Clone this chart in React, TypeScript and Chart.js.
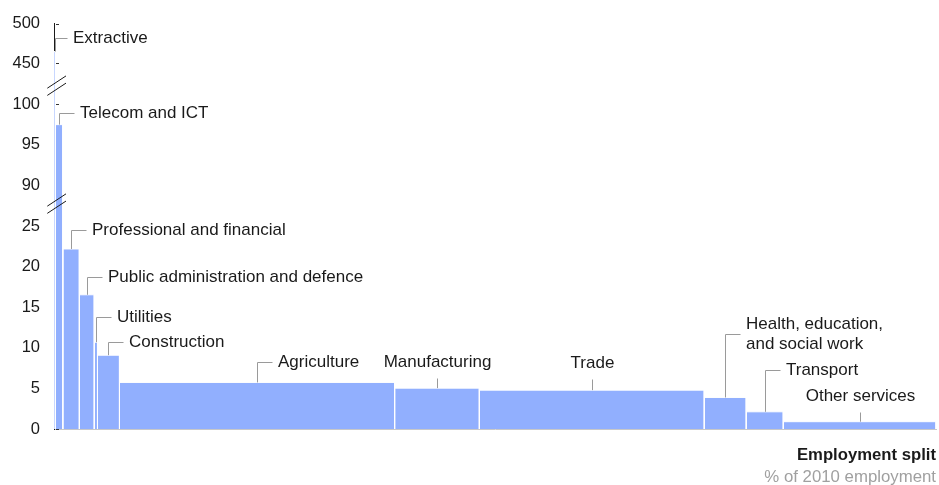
import React, { useEffect, useRef } from 'react';
import { Chart, registerables, LinearScale } from 'chart.js';

Chart.register(...registerables);

// ---------- DATA ----------
const categories: string[][] = [
  ['Extractive'],
  ['Telecom and ICT'],
  ['Professional and financial'],
  ['Public administration and defence'],
  ['Utilities'],
  ['Construction'],
  ['Agriculture'],
  ['Manufacturing'],
  ['Trade'],
  ['Health, education,', 'and social work'],
  ['Transport'],
  ['Other services'],
];
// bar widths: % of 2010 employment
const employmentShare: number[] = [0.17, 0.83, 1.87, 1.69, 0.37, 2.49, 31.2, 9.6, 25.5, 4.76, 4.2, 17.32];
// bar heights
const barValues: number[] = [465, 97.47, 22.2, 16.55, 10.7, 9.1, 5.74, 5.04, 4.79, 3.89, 2.12, 0.9];
const yTickValues: number[] = [0, 5, 10, 15, 20, 25, 90, 95, 100, 450, 500];

// broken axis: value ranges and their relative heights
const axisSegments = [
  { min: 0, max: 27.8, size: 226.5 },
  { min: 87.7, max: 102.3, size: 118.5 },
  { min: 422, max: 500, size: 62 },
];

// label placement (pixel rises above bar tops, horizontal arm length)
const labelLayout: { style: 'bracket' | 'stem'; rise: number; arm?: number }[] = [
  { style: 'bracket', rise: 14, arm: 12 },
  { style: 'bracket', rise: 12 },
  { style: 'bracket', rise: 19 },
  { style: 'bracket', rise: 18 },
  { style: 'bracket', rise: 25 },
  { style: 'bracket', rise: 13 },
  { style: 'bracket', rise: 20 },
  { style: 'stem', rise: 10 },
  { style: 'stem', rise: 11 },
  { style: 'bracket', rise: 63 },
  { style: 'bracket', rise: 42 },
  { style: 'stem', rise: 10 },
];

const FONT = "'Liberation Sans', Arial, Helvetica, sans-serif";
const BAR_COLOR = 'rgb(145,175,254)';
const TEXT_COLOR = '#1a1a1a';
const LEADER_COLOR = '#9a9a9a';

// ---------- broken linear scale ----------
const totalSize = axisSegments.reduce((a, s) => a + s.size, 0);

class BrokenLinearScale extends LinearScale {
  static id = 'brokenLinear';
  static defaults = {};

  buildTicks() {
    return yTickValues.map((v) => ({ value: v })) as any;
  }

  valueToDecimal(value: number) {
    let acc = 0;
    for (let i = 0; i < axisSegments.length; i++) {
      const s = axisSegments[i];
      if (value <= s.max || i === axisSegments.length - 1) {
        let t = (value - s.min) / (s.max - s.min);
        t = Math.max(0, t);
        return (acc + t * s.size) / totalSize;
      }
      acc += s.size;
    }
    return 1;
  }

  getPixelForValue(value: number) {
    if (value === null || value === undefined || isNaN(value)) return NaN;
    return this.getPixelForDecimal(this.valueToDecimal(value));
  }

  getValueForPixel(pixel: number) {
    const d = this.getDecimalForPixel(pixel) * totalSize;
    let acc = 0;
    for (let i = 0; i < axisSegments.length; i++) {
      const s = axisSegments[i];
      if (d <= acc + s.size || i === axisSegments.length - 1) {
        return s.min + ((d - acc) / s.size) * (s.max - s.min);
      }
      acc += s.size;
    }
    return axisSegments[axisSegments.length - 1].max;
  }

  breakPixels() {
    const out: number[] = [];
    let acc = 0;
    for (let i = 0; i < axisSegments.length - 1; i++) {
      acc += axisSegments[i].size;
      out.push(this.getPixelForDecimal(acc / totalSize));
    }
    return out;
  }
}
Chart.register(BrokenLinearScale as any);

// ---------- annotation plugin ----------
const annotatePlugin = {
  id: 'annotate',
  beforeDatasetsDraw(chart: any) {
    const { ctx, chartArea } = chart;
    const y = chart.scales.y;
    ctx.save();
    ctx.strokeStyle = '#333';
    ctx.lineWidth = 1;
    yTickValues.forEach((v) => {
      const py = Math.round(y.getPixelForValue(v)) + 0.5;
      ctx.beginPath();
      ctx.moveTo(chartArea.left + 2, py);
      ctx.lineTo(chartArea.left + 5, py);
      ctx.stroke();
    });
    ctx.restore();
  },
  afterDatasetsDraw(chart: any) {
    const { ctx, chartArea } = chart;
    const xs = chart.scales.x;
    const ys = chart.scales.y;
    ctx.save();
    // axis breaks
    const ax = chartArea.left;
    ctx.strokeStyle = '#1a1a1a';
    ctx.lineWidth = 1;
    (ys as BrokenLinearScale).breakPixels().forEach((yb: number) => {
      [-3.6, 3.6].forEach((off) => {
        ctx.beginPath();
        ctx.moveTo(ax - 6.7, yb + off + 6.2);
        ctx.lineTo(ax + 12, yb + off - 6.1);
        ctx.stroke();
      });
    });
    // leaders and labels
    ctx.font = `17px ${FONT}`;
    ctx.fillStyle = TEXT_COLOR;
    ctx.textBaseline = 'middle';
    let acc = 0;
    categories.forEach((lines, i) => {
      const x0 = acc;
      const x1 = acc + employmentShare[i];
      acc = x1;
      const cx = Math.round(xs.getPixelForValue((x0 + x1) / 2)) + 0.5;
      const top = ys.getPixelForValue(barValues[i]);
      const lay = labelLayout[i];
      const arm = lay.arm ?? 15;
      const ly = Math.round(top - lay.rise) + 0.5;
      ctx.strokeStyle = LEADER_COLOR;
      ctx.beginPath();
      ctx.moveTo(cx, top);
      ctx.lineTo(cx, ly);
      if (lay.style === 'bracket') {
        ctx.lineTo(cx + arm, ly);
      }
      ctx.stroke();
      if (lay.style === 'bracket') {
        ctx.textAlign = 'left';
        const n = lines.length;
        lines.forEach((t, k) => {
          ctx.fillText(t, cx + arm + 5.5, ly + (k - (n - 1) / 2) * 20);
        });
      } else {
        ctx.textAlign = 'center';
        lines.forEach((t, k) => {
          ctx.fillText(t, cx, ly - 16.5 - (lines.length - 1 - k) * 20);
        });
      }
    });
    ctx.restore();
  },
};

export default function App() {
  const ref = useRef<HTMLCanvasElement | null>(null);

  useEffect(() => {
    if (!ref.current) return;
    let acc = 0;
    const datasets = categories.map((lines, i) => {
      const x0 = acc;
      const x1 = acc + employmentShare[i];
      acc = x1;
      const v = barValues[i];
      return {
        label: lines.join(' '),
        data: [
          { x: x0, y: 0 },
          { x: x0, y: v },
          { x: x1, y: v },
          { x: x1, y: 0 },
        ],
        fill: 'origin',
        backgroundColor: BAR_COLOR,
        borderColor: '#ffffff',
        borderWidth: 1,
        pointRadius: 0,
        pointHoverRadius: 0,
        tension: 0,
      };
    });
    const totalShare = employmentShare.reduce((a, b) => a + b, 0);

    const chart = new Chart(ref.current, {
      type: 'line',
      data: { datasets: datasets as any },
      plugins: [annotatePlugin],
      options: {
        animation: false,
        responsive: true,
        maintainAspectRatio: false,
        events: [],
        layout: { padding: { top: 22, left: 0, right: 3, bottom: 0 } },
        plugins: {
          legend: { display: false },
          tooltip: { enabled: false },
          title: {
            display: true,
            text: 'Employment split',
            position: 'bottom',
            align: 'end',
            weight: 10,
            color: TEXT_COLOR,
            font: { family: FONT, size: 16.7, weight: 'bold', lineHeight: '20px' },
            padding: { top: 16, bottom: 4 },
          } as any,
          subtitle: {
            display: true,
            text: '% of 2010 employment',
            position: 'bottom',
            align: 'end',
            weight: 20,
            color: '#a0a0a0',
            font: { family: FONT, size: 16.8, lineHeight: '16px' },
            padding: 0,
          } as any,
        },
        scales: {
          x: {
            type: 'linear',
            min: 0,
            max: totalShare,
            grid: { display: false, drawTicks: false },
            border: { display: true, color: '#c8c8c8', width: 1 },
            ticks: { display: false },
            afterFit: (s: any) => {
              s.height = 0;
            },
          },
          y: {
            type: 'brokenLinear' as any,
            min: 0,
            max: 500,
            grid: { display: false, drawTicks: false },
            border: { display: true, color: '#1a1a1a', width: 1 },
            ticks: {
              autoSkip: false,
              padding: 14,
              color: TEXT_COLOR,
              font: { family: FONT, size: 16.5 },
              callback: (v: any) => String(v),
            },
            afterFit: (s: any) => {
              s.width = 54;
            },
          } as any,
        },
      },
    });
    return () => chart.destroy();
  }, []);

  return (
    <div style={{ position: 'fixed', left: 0, top: 0, width: 939, height: 485, background: '#fff' }}>
      <canvas ref={ref} />
    </div>
  );
}
